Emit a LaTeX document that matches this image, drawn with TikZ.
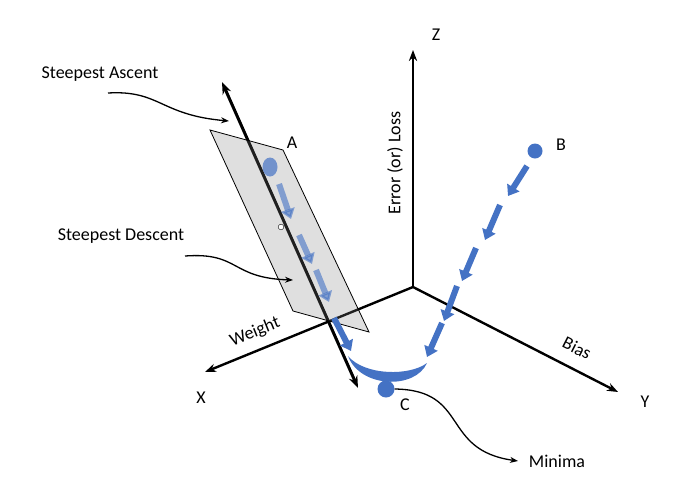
\documentclass[tikz,border=0pt]{standalone}
\usepackage{fontspec}
\setmainfont{Carlito}
\usetikzlibrary{arrows.meta,shapes.geometric}
\definecolor{stepblue}{HTML}{4472C4}
\begin{document}
\begin{tikzpicture}[x=1pt,y=-1pt,font=\fontsize{18}{21}\selectfont,
    axis/.style={line width=2.4pt,-{Stealth[length=11pt]}},
    callout/.style={line width=1.3pt,-{Stealth[length=8pt]}},
    step arrow/.style={draw=stepblue,line width=6pt,-{Triangle[length=10pt,width=14pt]}},
    ball/.style={circle,fill=stepblue,inner sep=0pt,minimum size=15pt}]
\useasboundingbox (0,0) rectangle (700,493);
% axes
\coordinate (O) at (413,287);
\coordinate (zend) at (413,50);
\coordinate (xend) at (205,372);
\coordinate (yend) at (618,392);
\draw[axis] (O) -- (zend);
\draw[axis] (O) -- (xend);
\draw[axis] (O) -- (yend);
\node (zlab) at (436,35) {Z};
\node (xlab) at (201,398) {X};
\node (ylab) at (645,402) {Y};
\node[rotate=90] (loss) at (395,163) {Error (or) Loss};
\node[rotate=22] (weight) at (255,332) {Weight};
\node[rotate=-27] (bias) at (577,348) {Bias};
% steepest line
\coordinate (top) at (222,82);
\coordinate (bot) at (358,388);
\draw[line width=3pt,{Stealth[length=12pt]}-{Stealth[length=12pt]}] (top) -- (bot);
% tangent plane
\draw[fill=gray,fill opacity=0.25,line width=0.8pt] (210,130) -- (283,150) -- (369,332) -- (293,311) -- cycle;
% descent steps in plane
\node[ball,ellipse,minimum width=15pt,minimum height=19pt,opacity=0.7] (A) at (270,167) {};
\node (Alab) at (292,143) {A};
\node[circle,draw,fill=white,inner sep=2pt] (mid) at (281,227) {};
\foreach \s/\e in {{(279,184)}/{(291,219)},{(299,235)}/{(312,264)},{(316,270)}/{(329,302)}}
  \draw[step arrow,opacity=0.6] \s -- \e;
\draw[step arrow] (334,318) -- (351,351);
% descent from B
\node[ball] (B) at (535,151) {};
\node (Blab) at (561,145) {B};
\foreach \s/\e in {{(527,166)}/{(508,196)},{(500,205)}/{(485,240)},{(476,248)}/{(462,281)},{(457,286)}/{(444,321)},{(442,323)}/{(427,357)}}
  \draw[step arrow] \s -- \e;
% bowl
\fill[stepblue] (348,356) .. controls (360,388) and (415,390) .. (427,363)
  .. controls (410,376) and (365,376) .. cycle;
\node[ball,minimum size=17pt] (C) at (386,389) {};
\node (Clab) at (405,405) {C};
% callouts
\node (ascent) at (100,74) {Steepest Ascent};
\node (descent) at (121,236) {Steepest Descent};
\node (minima) at (557,461) {Minima};
\draw[callout] (108,93) .. controls (160,90) and (160,115) .. (229,121);
\draw[callout] (185,256) .. controls (240,252) and (230,278) .. (293,280);
\draw[callout] (C.east) .. controls (470,390) and (440,450) .. (518,461);
\end{tikzpicture}
\end{document}
